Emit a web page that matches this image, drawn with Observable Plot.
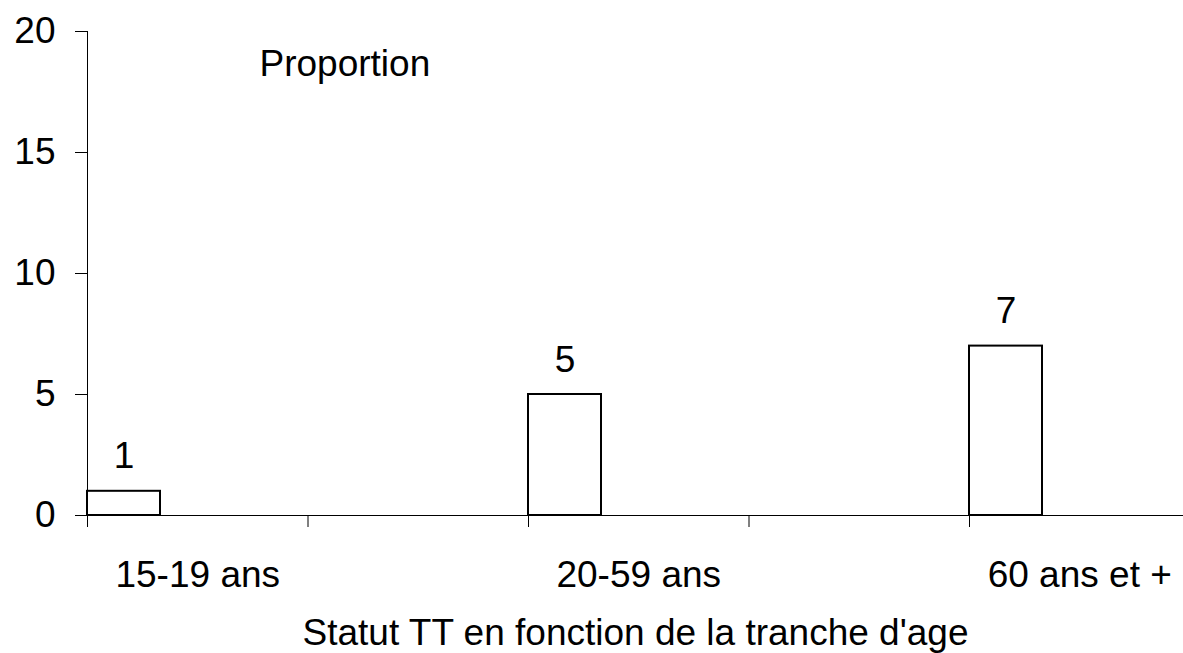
<!DOCTYPE html>
<html><head><meta charset="utf-8">
<script src="https://cdn.jsdelivr.net/npm/d3@7"></script>
<script src="https://cdn.jsdelivr.net/npm/@observablehq/plot@0.6"></script>
<style>html,body{margin:0;padding:0;background:#fff}</style>
</head><body><div id="chart"></div>
<script>
const categories = ["15-19 ans", "20-59 ans", "60 ans et +"];
const values = [1, 5, 7];
const yTicks = [0, 5, 10, 15, 20];
const seriesLabel = "Proportion";
const xTitle = "Statut TT en fonction de la tranche d'age";

const data = categories.map((c, i) => ({cat: c, value: values[i]}));

const W = 1183, H = 653;
const band = 441;
const barW = 73;

const chart = Plot.plot({
  width: W, height: H,
  marginLeft: 87, marginRight: 0, marginTop: 31, marginBottom: 138,
  style: {fontFamily: "'Liberation Sans', Arial, sans-serif", fontSize: "37px", background: "white", color: "black", overflow: "visible"},
  x: {type: "band", domain: categories, range: [87, 87 + band * categories.length], padding: 0},
  y: {domain: [0, 20]},
  marks: [
    Plot.barY(data, {x: "cat", y: "value", fill: "white", stroke: "black", strokeWidth: 2, insetRight: band - barW}),
    Plot.text(data, {x: "cat", y: "value", text: d => String(d.value), dx: -(band / 2 - barW / 2), dy: -23, lineAnchor: "bottom", fill: "black"}),
    Plot.ruleY([0], {stroke: "black"}),
    Plot.frame({anchor: "left", stroke: "black"}),
    Plot.ruleX(categories, {x: d => d, y1: 0, y2: 0, insetBottom: -12, stroke: "black"}),
    Plot.ruleX(categories, {x: d => d, y1: 0, y2: 0, insetBottom: -12, dx: -band / 2, stroke: "black"}),
    Plot.axisX({tickSize: 0, tickPadding: 45, dx: -band / 4, label: null}),
    Plot.axisY({ticks: yTicks, tickSize: 12, tickPadding: 20, label: null}),
    Plot.text([seriesLabel], {text: d => d, frameAnchor: "top-left", dx: 172, dy: 44, textAnchor: "start", lineAnchor: "bottom", fill: "black"}),
    Plot.text([xTitle], {text: d => d, frameAnchor: "bottom", dy: 129, lineAnchor: "bottom", fill: "black"})
  ]
});
document.getElementById("chart").appendChild(chart);
</script>
</body></html>
